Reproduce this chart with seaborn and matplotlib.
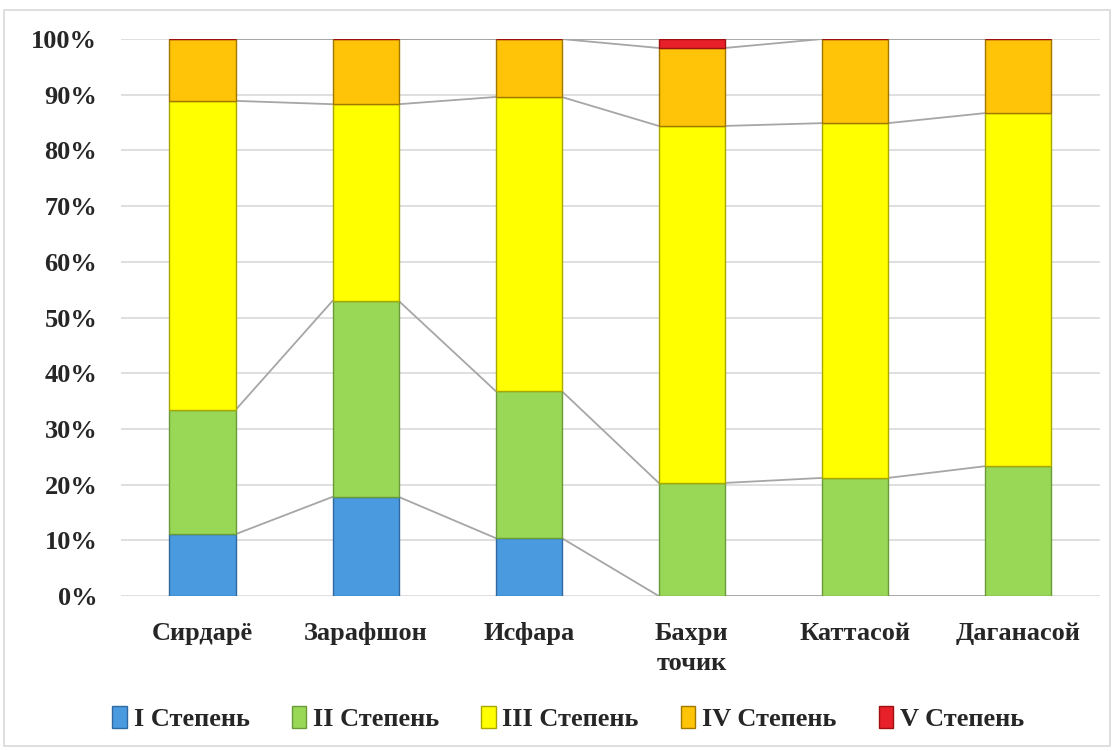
import numpy as np
import pandas as pd
import seaborn as sns
import matplotlib as mpl
import matplotlib.pyplot as plt
from matplotlib.patches import Rectangle, Patch
from matplotlib.ticker import PercentFormatter

categories = ["Сирдарё", "Зарафшон", "Исфара", "Бахри\nточик", "Каттасой", "Даганасой"]
series = ["I Степень", "II Степень", "III Степень", "IV Степень", "V Степень"]

deg1 = [11.1, 17.8, 10.4, 0.0, 0.0, 0.0]
deg2 = [22.3, 35.2, 26.4, 20.3, 21.2, 23.3]
deg3 = [55.5, 35.3, 52.8, 64.1, 63.7, 63.4]
deg4 = [11.1, 11.7, 10.4, 14.0, 15.1, 13.3]
deg5 = [0.0, 0.0, 0.0, 1.6, 0.0, 0.0]

colors = ["#4a9ae0", "#98d856", "#ffff00", "#ffc408", "#e8202a"]
edges = ["#2e6aa0", "#6a9a3a", "#a8a800", "#a07800", "#a01010"]

sns.set_theme(style="white")
plt.rcParams["font.family"] = ["Liberation Serif", "DejaVu Serif"]
plt.rcParams["font.weight"] = "bold"

fig = plt.figure(figsize=(11.14, 7.51), dpi=100)
ax = fig.add_axes([0.1086, 0.2064, 0.8784, 0.7416])

# outer frame of the chart area
fig.patches.append(Rectangle((0.004, 0.007), 0.992, 0.98, transform=fig.transFigure,
                             fill=False, edgecolor="#d9d9d9", linewidth=1.2))

values = [deg1, deg2, deg3, deg4, deg5]
df = pd.DataFrame({"cat": categories})
bottom = np.zeros(len(categories))
tops = []
w = 0.405
for name, vals, col, ec in zip(series, values, colors, edges):
    df["val"] = vals
    sns.barplot(data=df, x="cat", y="val", bottom=bottom.copy(), color=col, width=w,
                saturation=1, edgecolor=ec, linewidth=1.0, ax=ax, legend=False, zorder=3)
    bottom = bottom + np.array(vals)
    tops.append(bottom.copy())

# series lines between neighbouring bars
for top in tops:
    for i in range(len(categories) - 1):
        ax.plot([i + w / 2, i + 1 - w / 2], [top[i], top[i + 1]],
                color="#a6a6a6", linewidth=1.3, zorder=2)

ax.set_xlim(-0.5, len(categories) - 0.5)
ax.set_ylim(0, 100)
ax.set_yticks(np.arange(0, 101, 10))
ax.yaxis.set_major_formatter(PercentFormatter(decimals=0))
ax.grid(axis="y", color="#d9d9d9", linewidth=1.2, zorder=0)
ax.set_axisbelow(True)
for s in ax.spines.values():
    s.set_visible(False)
ax.set_xlabel("")
ax.set_ylabel("")
ax.tick_params(axis="y", length=0, labelsize=19, pad=17)
ax.tick_params(axis="x", length=0, labelsize=19, pad=19)
for t in ax.get_xticklabels() + ax.get_yticklabels():
    t.set_fontweight("bold")
for t in ax.get_xticklabels():
    t.set_linespacing(1.35)

handles = [Patch(facecolor=c, edgecolor=e, linewidth=1.0) for c, e in zip(colors, edges)]
fig.legend(handles, series, loc="center", bbox_to_anchor=(0.51, 0.043), ncol=5,
           frameon=False, handlelength=0.55, handleheight=0.9,
           handletextpad=0.25, columnspacing=1.6, prop={"weight": "bold", "size": 19})

fig.savefig("out.png", dpi=100)
